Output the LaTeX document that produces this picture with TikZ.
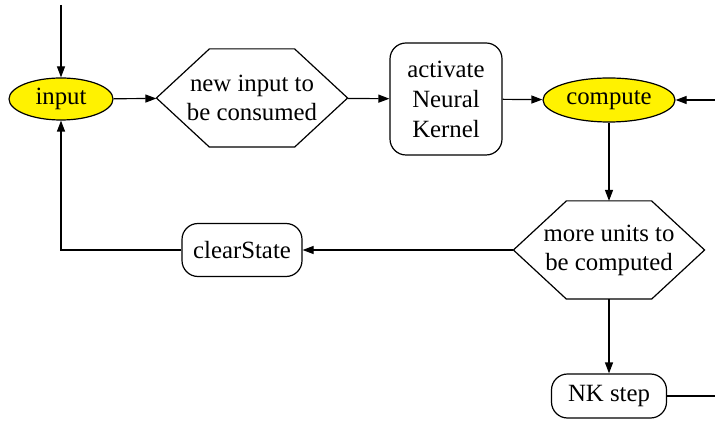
\documentclass[tikz,border=0pt]{standalone}
\usepackage{fontspec}
\setmainfont{Liberation Serif}
\usetikzlibrary{arrows.meta,shapes.geometric}

\tikzset{
  base/.style={draw, line width=0.6pt, align=center, inner sep=1pt,
    font=\fontsize{12.4pt}{15pt}\selectfont},
  state/.style={base, ellipse, fill=yellow},
  test/.style={base, draw=none, rectangle, minimum width=95pt, minimum height=48.5pt,
    font=\fontsize{12.4pt}{14.5pt}\selectfont},
  action/.style={base, rectangle, rounded corners=8pt},
  flow/.style={line width=0.6pt, -{Triangle[length=5.5pt,width=4pt]}},
  link/.style={line width=0.6pt}
}

\begin{document}
\begin{tikzpicture}[x=0.5pt, y=-0.5pt]
\useasboundingbox (0,0) rectangle (715,421);
% upper row
\node[state, minimum width=52pt, minimum height=21pt] (input) at (61,99) {input};
\node[test] (newinput) at (252,98) {new input to\\be consumed};
\node[action, minimum width=56pt, minimum height=56pt] (activate) at (446,99) {activate\\Neural\\Kernel};
\node[state, minimum width=66pt, minimum height=22pt] (compute) at (609,100) {compute};
% lower part
\node[test] (moreunits) at (609,250) {more units to\\be computed};
\node[action, minimum width=60pt, minimum height=26.5pt] (clear) at (242,250) {clearState};
\node[action, minimum width=57.5pt, minimum height=22pt] (nkstep) at (609,396) {NK step};
% hexagon outlines of the tests
\foreach \h in {newinput,moreunits}
  \draw[link] (\h.west) -- ([xshift=26.5pt]\h.north west) -- ([xshift=-26.5pt]\h.north east)
    -- (\h.east) -- ([xshift=-26.5pt]\h.south east) -- ([xshift=26.5pt]\h.south west) -- cycle;
% free ends
\coordinate (start) at (61,5);
\coordinate (back) at (715,100);
\coordinate (out) at (715,396);
\coordinate (corner) at (61,250);

\draw[flow] (start) -- (input);
\draw[flow] (input) -- (newinput);
\draw[flow] (newinput) -- (activate);
\draw[flow] (activate) -- (compute);
\draw[flow] (back) -- (compute);
\draw[flow] (compute) -- (moreunits);
\draw[flow] (moreunits) -- (clear);
\draw[flow] (clear) -- (corner) -- (input);
\draw[flow] (moreunits) -- (nkstep);
\draw[link] (nkstep) -- (out);
\end{tikzpicture}
\end{document}
